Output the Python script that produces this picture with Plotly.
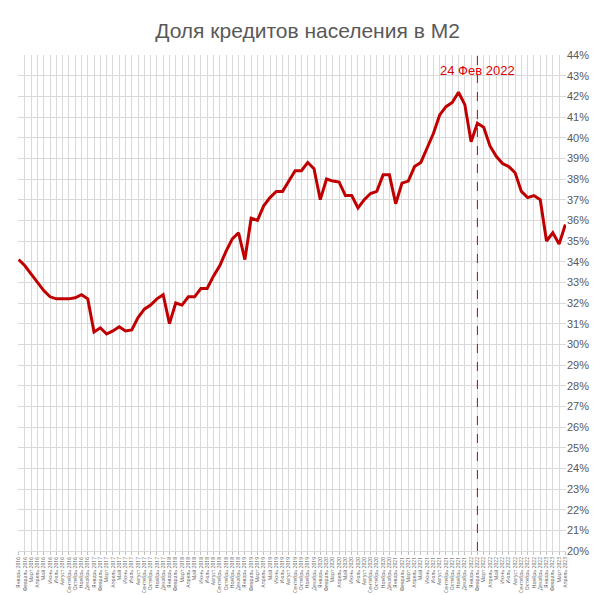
import plotly.graph_objects as go

months = ["Январь","Февраль","Март","Апрель","Май","Июнь","Июль","Август","Сентябрь","Октябрь","Ноябрь","Декабрь"]
labels = [f"{m} {y}" for y in range(2016, 2024) for m in months][:88]
values = [34.1,33.8,33.4,33.0,32.6,32.3,32.2,32.2,32.2,32.25,32.4,32.2,
          30.6,30.8,30.5,30.65,30.85,30.65,30.7,31.3,31.7,31.9,32.2,32.4,
          31.0,32.0,31.9,32.3,32.3,32.7,32.7,33.3,33.8,34.5,35.1,35.4,
          34.1,36.1,36.0,36.7,37.1,37.4,37.4,37.9,38.4,38.4,38.8,38.5,
          37.0,38.0,37.9,37.85,37.2,37.2,36.6,37.0,37.3,37.4,38.2,38.2,
          36.8,37.8,37.9,38.6,38.8,39.5,40.2,41.1,41.5,41.7,42.2,41.6,
          39.8,40.7,40.5,39.6,39.1,38.75,38.6,38.3,37.4,37.1,37.2,37.0,
          35.0,35.4,34.85,35.8]
event_label = "Февраль 2022"
event_text = "24 Фев 2022"
yticks = list(range(20, 45))

fig = go.Figure()
fig.add_trace(go.Scatter(x=labels, y=values, mode="lines",
                         line=dict(color="#C00000", width=3)))
fig.add_shape(type="line", xref="x", yref="paper", x0=event_label, x1=event_label,
              y0=0, y1=1, line=dict(color="#C00000", width=1, dash="dash"))
fig.add_annotation(x=event_label, y=43.25, text=event_text, showarrow=False,
                   font=dict(color="#E00000", size=13, family="Liberation Sans"))
fig.update_layout(
    width=599, height=595, plot_bgcolor="white", paper_bgcolor="white",
    margin=dict(l=10, r=41, t=47, b=52),
    title=dict(text="Доля кредитов населения в М2", x=0.5, y=0.975, automargin=False,
               font=dict(size=21, color="#595959", family="Liberation Sans")),
    showlegend=False,
    xaxis=dict(type="category", tickangle=-90, tickfont=dict(size=5, color="#595959"),
               showgrid=True, gridcolor="#D9D9D9", ticks="outside", ticklen=3,
               tickcolor="#BFBFBF", linecolor="#D9D9D9", showline=True,
               range=[-0.1, 87.1], automargin=False),
    yaxis=dict(side="right", range=[20, 44], tickvals=yticks, automargin=False,
               ticktext=[f"{v}%" for v in yticks], showgrid=True, gridcolor="#D9D9D9",
               tickfont=dict(size=11, color="#595959", family="Liberation Sans"),
               zeroline=False),
)
fig.write_html("out.html")
